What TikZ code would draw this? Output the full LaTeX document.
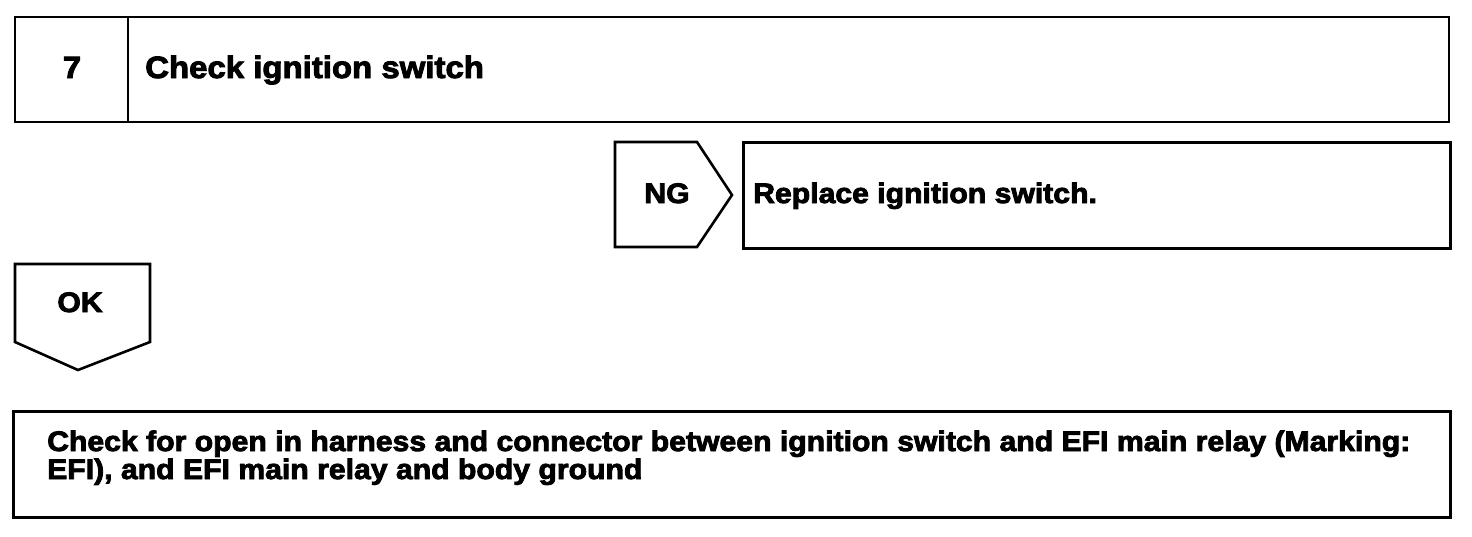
\documentclass[tikz,border=0pt]{standalone}
\usepackage{fontspec}
\setmainfont{Liberation Sans}[FakeStretch=1.07,BoldFeatures={FakeBold=3}]
\begin{document}
\begin{tikzpicture}[x=1pt,y=-1pt,
  frame/.style={draw=black,line width=2.6pt,line join=miter},
  lbl/.style={font=\fontsize{28.2}{24}\selectfont\bfseries,inner sep=0pt},
  biglbl/.style={font=\fontsize{30.8}{28}\selectfont\bfseries,inner sep=0pt},
]
\useasboundingbox[fill=white] (0,0) rectangle (1472,536);
% top box
\draw[frame] (15,17) rectangle (1449,122);
\draw[frame] (128,17) -- (128,122);
\node[biglbl,anchor=base] (num) at (72,78) {7};
\node[biglbl,anchor=base west] (title) at (145,78) {Check ignition switch};
% NG tag
\draw[frame] (615,142) -- (697,142) -- (732,195) -- (697,247) -- (615,247) -- cycle;
\node[lbl,anchor=base] (ng) at (667,203) {NG};
% replace box
\node[frame,minimum width=707pt,minimum height=106pt,anchor=north west,inner sep=0pt] (repbox) at (742,141) {};
\node[lbl,anchor=base west] (rep) at (753,203) {Replace ignition switch.};
% OK tag
\draw[frame] (15,264) -- (150,264) -- (150,342) -- (78,370) -- (15,342) -- cycle;
\node[lbl,anchor=base] (ok) at (80,312) {OK};
% bottom box
\node[frame,minimum width=1437pt,minimum height=106pt,anchor=north west,inner sep=0pt] (botbox) at (12,410) {};
\node[lbl,anchor=base west] (bot1) at (47,451) {Check for open in harness and connector between ignition switch and EFI main relay (Marking:};
\node[lbl,anchor=base west] (bot2) at (47,479) {EFI), and EFI main relay and body ground};
\end{tikzpicture}
\end{document}
